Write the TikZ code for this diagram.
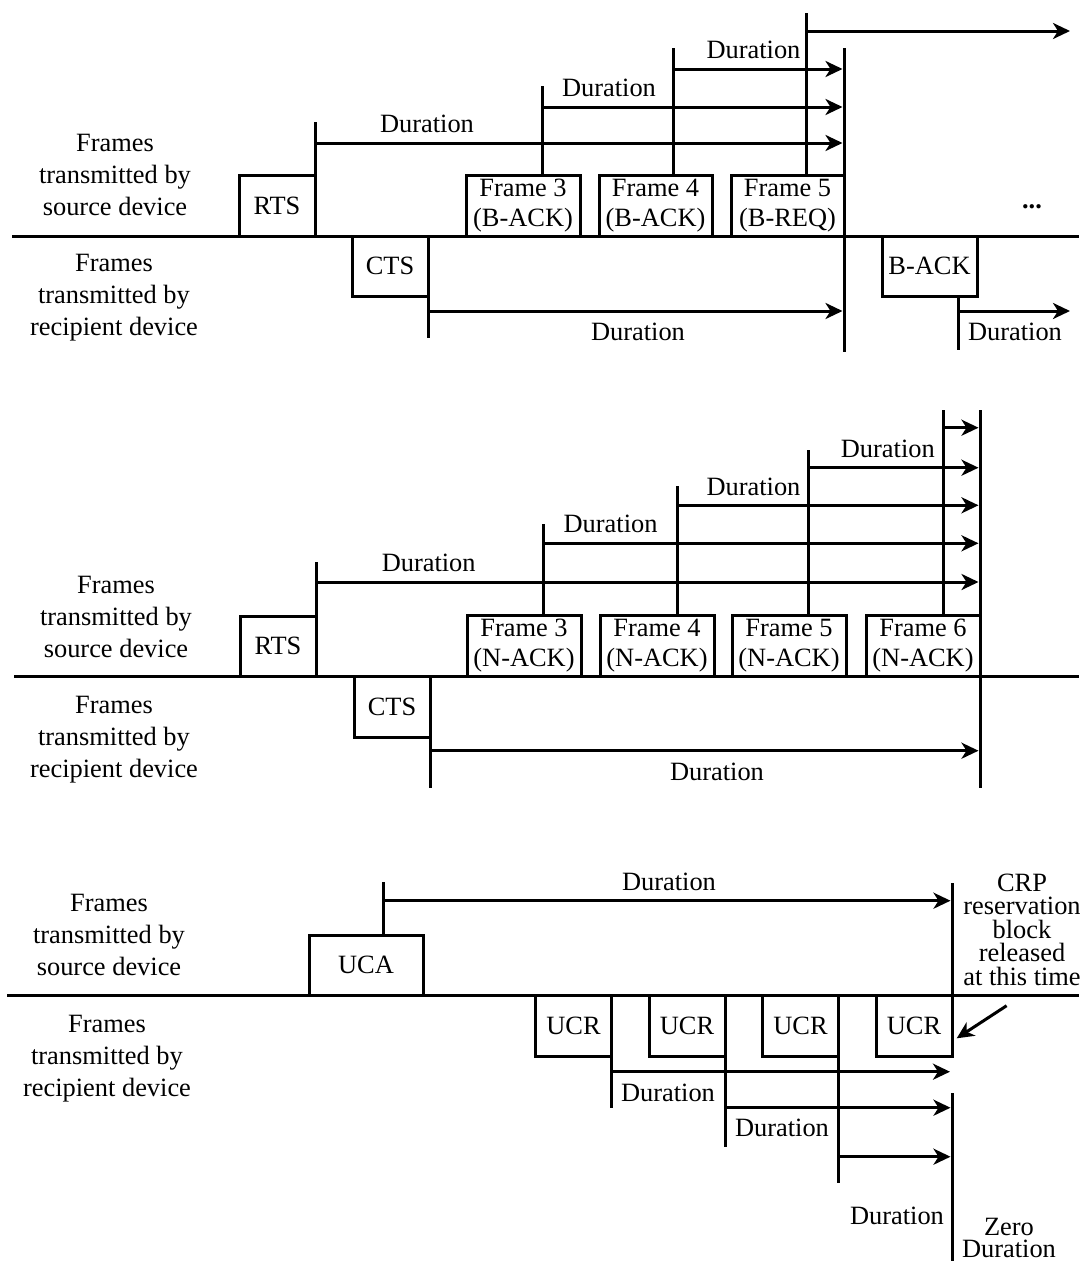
\documentclass[tikz,border=0pt]{standalone}
\usepackage{fontspec}
\setmainfont{Liberation Serif}
\usetikzlibrary{arrows.meta}
\newcommand\fsz{\fontsize{26.4}{32}\selectfont}
\newcommand\fszb{\fontsize{26.4}{30}\selectfont}
\newcommand\fszc{\fontsize{26.4}{23.5}\selectfont}
\newcommand\fszd{\fontsize{26.4}{22}\selectfont}
\tikzset{
  ln/.style={line width=3pt},
  arr/.style={ln, -{Stealth[length=17pt,width=16pt,inset=5pt]}},
  fbox/.style={draw, ln, inner sep=0pt, outer sep=0pt, align=center, font=\fsz},
  lbl/.style={inner sep=0pt, outer sep=0pt, align=center, font=\fsz},
}
\begin{document}
\begin{tikzpicture}[x=1pt,y=-1pt]
\useasboundingbox (0,0) rectangle (1079,1261);

% ================= Panel 1 =================
\coordinate (b1l) at (12,236); \coordinate (b1r) at (1079,236);
\draw[ln] (b1l) -- (b1r);
\node[lbl] (src1) at (115,175) {Frames\\transmitted by\\source device};
\node[lbl] (rcp1) at (114,298) {Frames\\transmitted by\\recipient device};

\node[fbox, minimum width=76, minimum height=61] (rts1) at (277,205.5) {RTS};
\node[fbox, minimum width=76, minimum height=60] (cts1) at (390,266) {CTS};
\node[fbox, minimum width=114, minimum height=61, font=\fszb] (f31) at (523,205.5) {Frame 3\\(B-ACK)};
\node[fbox, minimum width=113, minimum height=61, font=\fszb] (f41) at (655.5,205.5) {Frame 4\\(B-ACK)};
\node[fbox, minimum width=113, minimum height=61, font=\fszb] (f51) at (787.5,205.5) {Frame 5\\(B-REQ)};
\node[fbox, minimum width=95, minimum height=60] (back1) at (929.5,266) {B-ACK};
\node[lbl] (dots1) at (1032,207) {\textbf{...}};

\coordinate (v1a) at (315,122); \draw[ln] (rts1.north east) -- (v1a);
\coordinate (v1b) at (542,86);  \draw[ln] (f31.north -| v1b) -- (v1b);
\coordinate (v1c) at (673.5,48); \draw[ln] (f41.north -| v1c) -- (v1c);
\coordinate (v1d) at (806,13);  \draw[ln] (f51.north -| v1d) -- (v1d);
\coordinate (e1t) at (844,48); \coordinate (e1b) at (844,352);
\draw[ln] (e1t) -- (e1b);
\coordinate (c1b) at (428,338); \draw[ln] (cts1.south east) -- (c1b);
\coordinate (k1b) at (958,350); \draw[ln] (back1.south -| k1b) -- (k1b);

\coordinate (a11s) at (315,143);   \coordinate (a11e) at (842.5,143);
\coordinate (a12s) at (542,107);   \coordinate (a12e) at (842.5,107);
\coordinate (a13s) at (673.5,69);  \coordinate (a13e) at (842.5,69);
\coordinate (a14s) at (806,31);    \coordinate (a14e) at (1070,31);
\coordinate (a15s) at (428,311);   \coordinate (a15e) at (842.5,311);
\coordinate (a16s) at (958,311);   \coordinate (a16e) at (1070,311);
\draw[arr] (a11s) -- (a11e);
\draw[arr] (a12s) -- (a12e);
\draw[arr] (a13s) -- (a13e);
\draw[arr] (a14s) -- (a14e);
\draw[arr] (a15s) -- (a15e);
\draw[arr] (a16s) -- (a16e);
\node[lbl] (d11) at (427,124) {Duration};
\node[lbl] (d12) at (609,88) {Duration};
\node[lbl] (d13) at (753.5,50) {Duration};
\node[lbl] (d15) at (638,332) {Duration};
\node[lbl] (d16) at (1015,332) {Duration};

% ================= Panel 2 =================
\coordinate (b2l) at (14,676); \coordinate (b2r) at (1079,676);
\draw[ln] (b2l) -- (b2r);
\node[lbl] (src2) at (116,617) {Frames\\transmitted by\\source device};
\node[lbl] (rcp2) at (114,740) {Frames\\transmitted by\\recipient device};

\node[fbox, minimum width=76, minimum height=60] (rts2) at (278,646) {RTS};
\node[fbox, minimum width=76, minimum height=61] (cts2) at (392,706.5) {CTS};
\node[fbox, minimum width=114, minimum height=61, font=\fszb] (f32) at (524,645.5) {Frame 3\\(N-ACK)};
\node[fbox, minimum width=114, minimum height=61, font=\fszb] (f42) at (657,645.5) {Frame 4\\(N-ACK)};
\node[fbox, minimum width=114, minimum height=61, font=\fszb] (f52) at (789,645.5) {Frame 5\\(N-ACK)};
\node[fbox, minimum width=114, minimum height=61, font=\fszb] (f62) at (923,645.5) {Frame 6\\(N-ACK)};

\coordinate (v2a) at (316,562);   \draw[ln] (rts2.north east) -- (v2a);
\coordinate (v2b) at (543,524);   \draw[ln] (f32.north -| v2b) -- (v2b);
\coordinate (v2c) at (677,486);   \draw[ln] (f42.north -| v2c) -- (v2c);
\coordinate (v2d) at (808.5,450); \draw[ln] (f52.north -| v2d) -- (v2d);
\coordinate (v2e) at (943,410);   \draw[ln] (f62.north -| v2e) -- (v2e);
\coordinate (e2t) at (980,410); \coordinate (e2b) at (980,788);
\draw[ln] (e2t) -- (e2b);
\coordinate (c2b) at (430,788); \draw[ln] (cts2.south east) -- (c2b);

\coordinate (a21s) at (316,582);     \coordinate (a21e) at (978.5,582);
\coordinate (a22s) at (543,543.3);   \coordinate (a22e) at (978.5,543.3);
\coordinate (a23s) at (677,505.3);   \coordinate (a23e) at (978.5,505.3);
\coordinate (a24s) at (808.5,467.7); \coordinate (a24e) at (978.5,467.7);
\coordinate (a25s) at (943,427.7);   \coordinate (a25e) at (978.5,427.7);
\coordinate (a26s) at (430,750.7);   \coordinate (a26e) at (978.5,750.7);
\draw[arr] (a21s) -- (a21e);
\draw[arr] (a22s) -- (a22e);
\draw[arr] (a23s) -- (a23e);
\draw[arr] (a24s) -- (a24e);
\draw[arr] (a25s) -- (a25e);
\draw[arr] (a26s) -- (a26e);
\node[lbl] (d21) at (428.7,563) {Duration};
\node[lbl] (d22) at (610.6,524) {Duration};
\node[lbl] (d23) at (753.5,487) {Duration};
\node[lbl] (d24) at (887.8,449) {Duration};
\node[lbl] (d26) at (717,771.7) {Duration};

% ================= Panel 3 =================
\coordinate (b3l) at (7,995); \coordinate (b3r) at (1079,995);
\draw[ln] (b3l) -- (b3r);
\node[lbl] (src3) at (109,935) {Frames\\transmitted by\\source device};
\node[lbl] (rcp3) at (107,1059) {Frames\\transmitted by\\recipient device};

\node[fbox, minimum width=114, minimum height=60] (uca) at (366,965) {UCA};
\node[fbox, minimum width=76, minimum height=61] (ucr1) at (573.5,1025.5) {UCR};
\node[fbox, minimum width=76, minimum height=61] (ucr2) at (687,1025.5) {UCR};
\node[fbox, minimum width=76, minimum height=61] (ucr3) at (800.5,1025.5) {UCR};
\node[fbox, minimum width=76, minimum height=61] (ucr4) at (914,1025.5) {UCR};

\coordinate (v3a) at (383,882); \draw[ln] (uca.north -| v3a) -- (v3a);
\coordinate (crpt) at (952,883); \draw[ln] (ucr4.north east) -- (crpt);
\coordinate (u1b) at (611.5,1108); \draw[ln] (ucr1.north east) -- (u1b);
\coordinate (u2b) at (725,1147);   \draw[ln] (ucr2.north east) -- (u2b);
\coordinate (u3b) at (838.5,1183); \draw[ln] (ucr3.north east) -- (u3b);
\coordinate (zt) at (952,1093); \coordinate (zb) at (952,1261);
\draw[ln] (zt) -- (zb);

\coordinate (a31s) at (383,900.7);    \coordinate (a31e) at (950.5,900.7);
\coordinate (a32s) at (611.5,1071.7); \coordinate (a32e) at (950,1071.7);
\coordinate (a33s) at (725,1107.7);   \coordinate (a33e) at (950.5,1107.7);
\coordinate (a34s) at (838.5,1156.7); \coordinate (a34e) at (950.5,1156.7);
\draw[arr] (a31s) -- (a31e);
\draw[arr] (a32s) -- (a32e);
\draw[arr] (a33s) -- (a33e);
\draw[arr] (a34s) -- (a34e);
\node[lbl] (d31) at (669,881.7) {Duration};
\node[lbl] (d32) at (668,1093) {Duration};
\node[lbl] (d33) at (782,1128) {Duration};
\node[lbl] (d34) at (897,1216) {Duration};

\node[lbl, font=\fszc] (crp) at (1022,929.8) {CRP\\reservation\\block\\released\\at this time};
\node[lbl, font=\fszd] (zero) at (1009,1237.5) {Zero\\Duration};
\coordinate (ps) at (1006.6,1005.7); \coordinate (pe) at (956.7,1038.3);
\draw[arr] (ps) -- (pe);
\end{tikzpicture}
\end{document}
